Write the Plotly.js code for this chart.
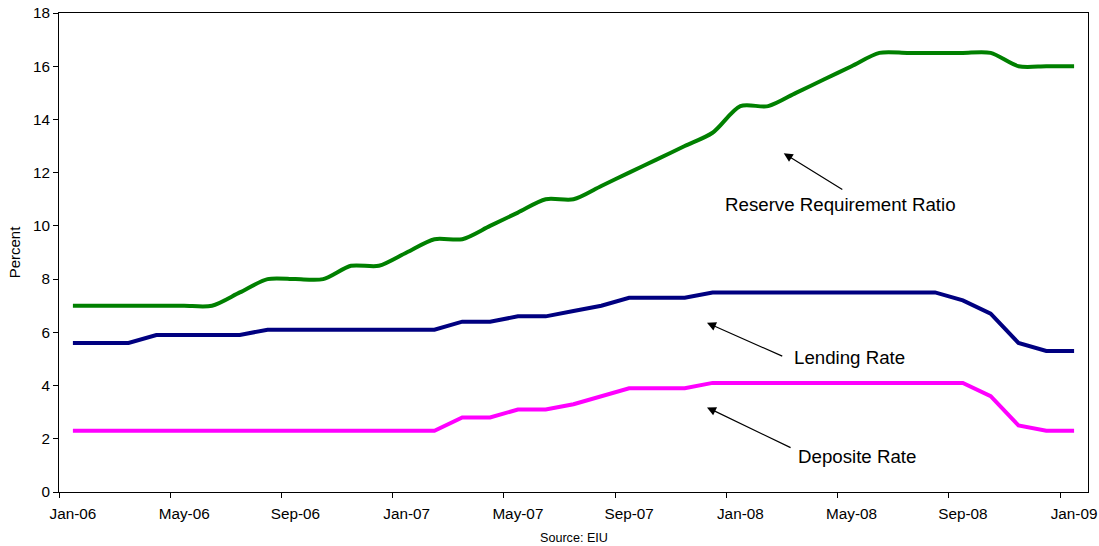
<!DOCTYPE html>
<html>
<head>
<meta charset="utf-8">
<script src="https://cdn.plot.ly/plotly-3.0.1.min.js"></script>
<style>
  html, body { margin: 0; padding: 0; background: #ffffff; }
  #chart { width: 1099px; height: 546px; }
</style>
</head>
<body>
<div id="chart"></div>
<script>
// Monthly categories, Jan-06 .. Jan-09
const months = [
  "Jan-06","Feb-06","Mar-06","Apr-06","May-06","Jun-06","Jul-06","Aug-06","Sep-06","Oct-06","Nov-06","Dec-06",
  "Jan-07","Feb-07","Mar-07","Apr-07","May-07","Jun-07","Jul-07","Aug-07","Sep-07","Oct-07","Nov-07","Dec-07",
  "Jan-08","Feb-08","Mar-08","Apr-08","May-08","Jun-08","Jul-08","Aug-08","Sep-08","Oct-08","Nov-08","Dec-08",
  "Jan-09"
];

const reserveRatio = [
  7.0, 7.0, 7.0, 7.0, 7.0, 7.0, 7.5, 8.0, 8.0, 8.0, 8.5, 8.5,
  9.0, 9.5, 9.5, 10.0, 10.5, 11.0, 11.0, 11.5, 12.0, 12.5, 13.0, 13.5,
  14.5, 14.5, 15.0, 15.5, 16.0, 16.5, 16.5, 16.5, 16.5, 16.5, 16.0, 16.0,
  16.0
];

const lendingRate = [
  5.6, 5.6, 5.6, 5.9, 5.9, 5.9, 5.9, 6.1, 6.1, 6.1, 6.1, 6.1,
  6.1, 6.1, 6.4, 6.4, 6.6, 6.6, 6.8, 7.0, 7.3, 7.3, 7.3, 7.5,
  7.5, 7.5, 7.5, 7.5, 7.5, 7.5, 7.5, 7.5, 7.2, 6.7, 5.6, 5.3,
  5.3
];

const depositRate = [
  2.3, 2.3, 2.3, 2.3, 2.3, 2.3, 2.3, 2.3, 2.3, 2.3, 2.3, 2.3,
  2.3, 2.3, 2.8, 2.8, 3.1, 3.1, 3.3, 3.6, 3.9, 3.9, 3.9, 4.1,
  4.1, 4.1, 4.1, 4.1, 4.1, 4.1, 4.1, 4.1, 4.1, 3.6, 2.5, 2.3,
  2.3
];

const seriesNames = ["Reserve Requirement Ratio", "Lending Rate", "Deposite Rate"];
const yTitle = "Percent";
const sourceText = "Source: EIU";

const FONT = "Liberation Sans, Arial, Helvetica, sans-serif";

const traces = [
  {
    x: months, y: reserveRatio, name: seriesNames[0], type: "scatter", mode: "lines",
    line: { color: "#008000", width: 4, shape: "spline", smoothing: 0.8 },
    hoverinfo: "x+y"
  },
  {
    x: months, y: lendingRate, name: seriesNames[1], type: "scatter", mode: "lines",
    line: { color: "#000080", width: 4 },
    hoverinfo: "x+y"
  },
  {
    x: months, y: depositRate, name: seriesNames[2], type: "scatter", mode: "lines",
    line: { color: "#FF00FF", width: 4 },
    hoverinfo: "x+y"
  }
];

function arrow(hx, hy, tx, ty) {
  return {
    x: hx, y: hy, xref: "x", yref: "y",
    ax: tx, ay: ty, axref: "x", ayref: "y",
    text: "", showarrow: true, arrowhead: 2, arrowsize: 1.5, arrowwidth: 1.2,
    arrowcolor: "#000000", standoff: 0, startstandoff: 0
  };
}
function label(txt, x, y) {
  return {
    x: x, y: y, xref: "x", yref: "y", text: txt, showarrow: false,
    font: { family: FONT, size: 18.7, color: "#000000" },
    xanchor: "center", yanchor: "middle"
  };
}

const layout = {
  width: 1099, height: 546,
  margin: { l: 59, r: 11, t: 13, b: 54 },
  paper_bgcolor: "#ffffff", plot_bgcolor: "#ffffff",
  showlegend: false,
  font: { family: FONT, color: "#000000" },
  xaxis: {
    type: "category",
    range: [-0.5, 36.5],
    tickmode: "linear", tick0: 0, dtick: 4,
    tickson: "boundaries",
    ticks: "outside", ticklen: 5, tickwidth: 1, tickcolor: "#000000",
    ticklabelstandoff: 8,
    showline: true, linecolor: "#000000", linewidth: 1, mirror: true,
    showgrid: false, zeroline: false,
    tickfont: { family: FONT, size: 15.3, color: "#000000" },
    tickangle: 0,
    fixedrange: true
  },
  yaxis: {
    range: [0, 18], tickmode: "linear", tick0: 0, dtick: 2,
    ticks: "outside", ticklen: 5, tickwidth: 1, tickcolor: "#000000",
    showline: true, linecolor: "#000000", linewidth: 1, mirror: true,
    showgrid: false, zeroline: false,
    tickfont: { family: FONT, size: 15.3, color: "#000000" },
    title: { text: yTitle, font: { family: FONT, size: 15, color: "#000000" }, standoff: 8 },
    fixedrange: true
  },
  annotations: [
    arrow(25.56, 12.73, 27.72, 11.33),
    arrow(22.80, 6.36, 25.56, 5.08),
    arrow(22.80, 3.18, 25.86, 1.64),
    label(seriesNames[0], 27.59, 10.82),
    label(seriesNames[1], 27.94, 5.06),
    label(seriesNames[2], 28.19, 1.34),
    {
      x: 0.5, y: 0, xref: "paper", yref: "paper", text: sourceText, showarrow: false,
      yshift: -46, xanchor: "center", yanchor: "middle",
      font: { family: FONT, size: 12.6, color: "#000000" }
    }
  ]
};

Plotly.newPlot("chart", traces, layout, { staticPlot: true, displayModeBar: false });
</script>
</body>
</html>
